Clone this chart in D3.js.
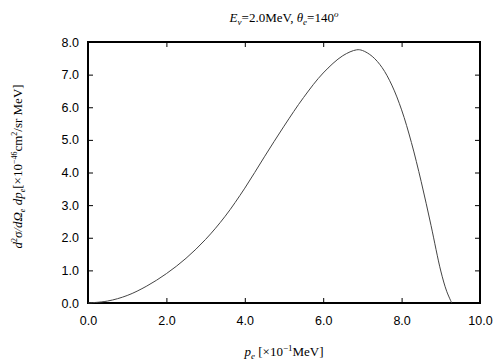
<!DOCTYPE html>
<html>
<head>
<meta charset="utf-8">
<script src="https://cdn.jsdelivr.net/npm/d3@7"></script>
<style>
body { margin: 0; background: white; }
svg { display: block; }
.tick text { font-family: "Liberation Sans", Arial, sans-serif; font-size: 12.5px; }
.lbl { font-family: "Liberation Serif", "Times New Roman", serif; font-size: 13px; }
</style>
</head>
<body>
<script>
// curve
var pe = [0, 0.5, 1.0, 1.5, 2.0, 2.5, 3.0, 3.5, 4.0, 4.5, 5.0, 5.5, 6.0, 6.5, 6.85, 7.0, 7.25, 7.5, 7.75, 8.0, 8.25, 8.5, 8.75, 9.0, 9.15, 9.28];
var xsec = [0, 0.06, 0.23, 0.52, 0.90, 1.37, 1.95, 2.66, 3.52, 4.48, 5.42, 6.30, 7.05, 7.58, 7.76, 7.74, 7.56, 7.22, 6.68, 5.92, 4.92, 3.72, 2.38, 0.98, 0.36, 0];
var xTicks = [0, 2, 4, 6, 8, 10];
var yTicks = [0, 1, 2, 3, 4, 5, 6, 7, 8];

var width = 504, height = 360;
var margin = {left: 88, right: 24, top: 42, bottom: 57};

var svg = d3.select("body").append("svg").attr("width", width).attr("height", height);

var x = d3.scaleLinear().domain([0, 10]).range([margin.left, width - margin.right]);
var y = d3.scaleLinear().domain([0, 8]).range([height - margin.bottom, margin.top]);

var fmt = d3.format(".1f");

// bottom & left axes with labels, ticks inward
svg.append("g")
    .attr("transform", "translate(0," + (height - margin.bottom) + ")")
    .call(d3.axisBottom(x).tickValues(xTicks).tickFormat(fmt).tickSizeInner(-5).tickSizeOuter(0).tickPadding(13))
    .call(g => g.select(".domain").remove());
svg.append("g")
    .attr("transform", "translate(" + margin.left + ",0)")
    .call(d3.axisLeft(y).tickValues(yTicks).tickFormat(fmt).tickSizeInner(-5).tickSizeOuter(0).tickPadding(9))
    .call(g => g.select(".domain").remove());
// mirror ticks top & right
svg.append("g")
    .attr("transform", "translate(0," + margin.top + ")")
    .call(d3.axisTop(x).tickValues(xTicks).tickFormat("").tickSizeInner(-5).tickSizeOuter(0))
    .call(g => g.select(".domain").remove());
svg.append("g")
    .attr("transform", "translate(" + (width - margin.right) + ",0)")
    .call(d3.axisRight(y).tickValues(yTicks).tickFormat("").tickSizeInner(-5).tickSizeOuter(0))
    .call(g => g.select(".domain").remove());

svg.append("rect")
    .attr("x", x(0)).attr("y", y(8))
    .attr("width", x(10) - x(0)).attr("height", y(0) - y(8))
    .attr("fill", "none").attr("stroke", "black").attr("stroke-width", 2);

var line = d3.line()
    .x((d, i) => x(pe[i]))
    .y((d, i) => y(xsec[i]))
    .curve(d3.curveCatmullRom.alpha(0.5));

svg.append("path")
    .datum(pe)
    .attr("d", line)
    .attr("fill", "none")
    .attr("stroke", "#444")
    .attr("stroke-width", 1);

// title
var title = svg.append("text").attr("class", "lbl")
    .attr("x", (x(0) + x(10)) / 2).attr("y", 22).attr("text-anchor", "middle");
title.append("tspan").attr("font-style", "italic").text("E");
title.append("tspan").attr("font-size", "9px").attr("dy", 3).attr("font-style", "italic").text("ν");
title.append("tspan").attr("dy", -3).text("=2.0MeV,  ");
title.append("tspan").attr("font-style", "italic").text("θ");
title.append("tspan").attr("font-size", "9px").attr("dy", 3).attr("font-style", "italic").text("e");
title.append("tspan").attr("dy", -3).text("=140");
title.append("tspan").attr("font-size", "9px").attr("dy", -5).attr("font-style", "italic").text("o");

// x label
var xl = svg.append("text").attr("class", "lbl")
    .attr("x", (x(0) + x(10)) / 2).attr("y", 356).attr("text-anchor", "middle");
xl.append("tspan").attr("font-style", "italic").text("p");
xl.append("tspan").attr("font-size", "9px").attr("dy", 3).attr("font-style", "italic").text("e");
xl.append("tspan").attr("dy", -3).text(" [×10");
xl.append("tspan").attr("font-size", "9px").attr("dy", -5).text("−1");
xl.append("tspan").attr("dy", 5).text("MeV]");

// y label
var yl = svg.append("text").attr("class", "lbl")
    .attr("font-size", "12px")
    .attr("transform", "translate(22," + ((y(0) + y(8)) / 2 - 6) + ") rotate(-90)")
    .attr("text-anchor", "middle");
yl.append("tspan").attr("font-style", "italic").text("d");
yl.append("tspan").attr("font-size", "8px").attr("dy", -5).text("2");
yl.append("tspan").attr("dy", 5).attr("font-style", "italic").text("σ/dΩ");
yl.append("tspan").attr("font-size", "8px").attr("dy", 3).attr("font-style", "italic").text("e");
yl.append("tspan").attr("dy", -3).attr("font-style", "italic").text(" dp");
yl.append("tspan").attr("font-size", "8px").attr("dy", 3).attr("font-style", "italic").text("e");
yl.append("tspan").attr("dy", -3).text("[×10");
yl.append("tspan").attr("font-size", "8px").attr("dy", -5).text("−46");
yl.append("tspan").attr("dy", 5).text("cm");
yl.append("tspan").attr("font-size", "8px").attr("dy", -5).text("2");
yl.append("tspan").attr("dy", 5).text("/sr MeV]");
</script>
</body>
</html>
